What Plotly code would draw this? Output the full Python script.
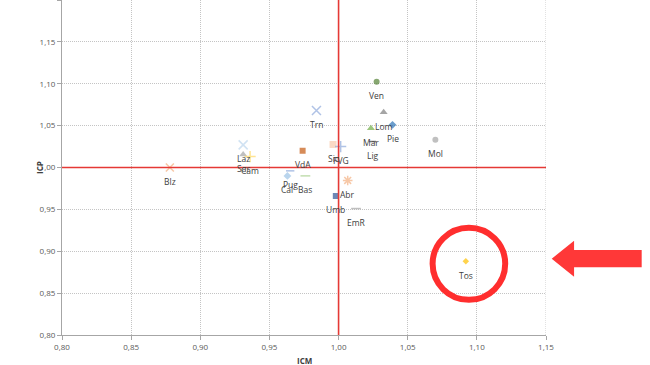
import plotly.graph_objects as go

regions = ["Blz", "Laz", "Sar", "Cam", "Trn", "VdA", "Sic", "FVG", "Pug", "Cal", "Bas",
           "Abr", "Umb", "EmR", "Ven", "Lom", "Mar", "Lig", "Pie", "Mol", "Tos"]
icm = [0.878, 0.931, 0.931, 0.936, 0.984, 0.974, 0.996, 1.0015, 0.965, 0.963, 0.976,
       1.0066, 0.998, 1.0126, 1.0275, 1.0326, 1.0234, 1.0246, 1.039, 1.070, 1.092]
icp = [1.000, 1.027, 1.0155, 1.013, 1.068, 1.020, 1.0275, 1.025, 0.996, 0.990, 0.990,
       0.9845, 0.966, 0.951, 1.1025, 1.066, 1.047, 1.031, 1.051, 1.033, 0.888]

symbols = ["x-thin", "x-thin", "triangle-up", "cross-thin", "x-thin", "square", "square",
           "cross-thin", "line-ew", "diamond", "line-ew", "asterisk", "square", "line-ew",
           "circle", "triangle-up", "triangle-up", "line-ew", "diamond", "circle", "diamond"]
colors = ["#F4B183", "#BDD7EE", "#A5A5A5", "#FFD966", "#8FAADC", "#C55A11", "#F8CBAD",
          "#8FAADC", "#8FAADC", "#9DC3E6", "#A9D18E", "#F4B183", "#2F5597", "#A5A5A5",
          "#548235", "#7F7F7F", "#70AD47", "#404040", "#2E75B6", "#A5A5A5", "#FFC000"]
sizes = [8, 9, 7, 8, 9, 6, 7, 8, 6, 6, 7, 8, 6, 7, 6, 7, 7, 5, 6, 6, 5]
lw = [1.5 if s in ("x-thin", "cross-thin", "line-ew", "asterisk") else 0 for s in symbols]

xticks = [0.80, 0.85, 0.90, 0.95, 1.00, 1.05, 1.10, 1.15]
yticks = [0.80, 0.85, 0.90, 0.95, 1.00, 1.05, 1.10, 1.15, 1.20]

FONT = "Open Sans"
GRID = "#C4C4C4"
fig = go.Figure()

fig.add_trace(go.Scatter(
    x=icm, y=icp, mode="markers",
    marker=dict(symbol=symbols, color=colors, size=sizes,
                line=dict(color=colors, width=lw)),
    showlegend=False, cliponaxis=False,
))

for name, xv, yv in zip(regions, icm, icp):
    fig.add_annotation(x=xv, y=yv, text=name, showarrow=False, yshift=-14,
                       font=dict(family=FONT, size=8.5, color="#404040"))

fmt = lambda v: f"{v:.2f}".replace(".", ",")

axis_common = dict(showgrid=True, gridcolor=GRID, griddash="1px,1px", gridwidth=1,
                   zeroline=False, showline=True, linecolor="#A6A6A6", linewidth=1,
                   ticks="outside", ticklen=4, tickcolor="#A6A6A6", automargin=False,
                   tickfont=dict(family=FONT, size=8, color="#595959"))

fig.update_layout(
    width=650, height=365,
    margin=dict(l=62, r=104, t=0, b=30),
    paper_bgcolor="white", plot_bgcolor="white",
    xaxis=dict(range=[0.80, 1.15], tickvals=xticks, ticktext=[fmt(v) for v in xticks],
               **axis_common),
    yaxis=dict(range=[0.80, 1.20], tickvals=yticks, ticktext=[fmt(v) for v in yticks],
               **axis_common),
)

# right grid edge at 1.15
fig.add_shape(type="line", xref="x", yref="paper", x0=1.15, x1=1.15, y0=0, y1=1,
              line=dict(color=GRID, width=1, dash="1px,1px"), layer="below")

# red reference lines at 1.00
fig.add_shape(type="line", xref="x", yref="paper", x0=1.0, x1=1.0, y0=0, y1=1,
              line=dict(color="#E53935", width=1.6), layer="above")
fig.add_shape(type="line", xref="paper", yref="y", x0=0, x1=1, y0=1.0, y1=1.0,
              line=dict(color="#E53935", width=1.6), layer="above")

# red circle around Tos
fig.add_shape(type="circle", xref="x", yref="y", x0=1.068, x1=1.1205, y0=0.842, y1=0.928,
              line=dict(color="#FF2E2E", width=6))

# red arrow pointing left
fig.add_shape(type="path", xref="paper", yref="paper",
              path="M 1.0118 0.2277 L 1.058 0.2815 L 1.058 0.2537 L 1.1977 0.2537 "
                   "L 1.1977 0.202 L 1.058 0.202 L 1.058 0.174 Z",
              fillcolor="#FF3838", line=dict(width=0))

# axis titles
fig.add_annotation(text="<b>ICM</b>", xref="paper", yref="paper", x=0.5, y=-0.075,
                   showarrow=False, yanchor="middle",
                   font=dict(family=FONT, size=8, color="#404040"))
fig.add_annotation(text="<b>ICP</b>", xref="paper", yref="y", x=-0.062, y=1.0,
                   showarrow=False, textangle=-90,
                   font=dict(family=FONT, size=8, color="#404040"))

fig.write_html("out.html", config={"displayModeBar": False},
               post_script="document.body.style.margin='0';document.body.style.overflow='hidden';")
